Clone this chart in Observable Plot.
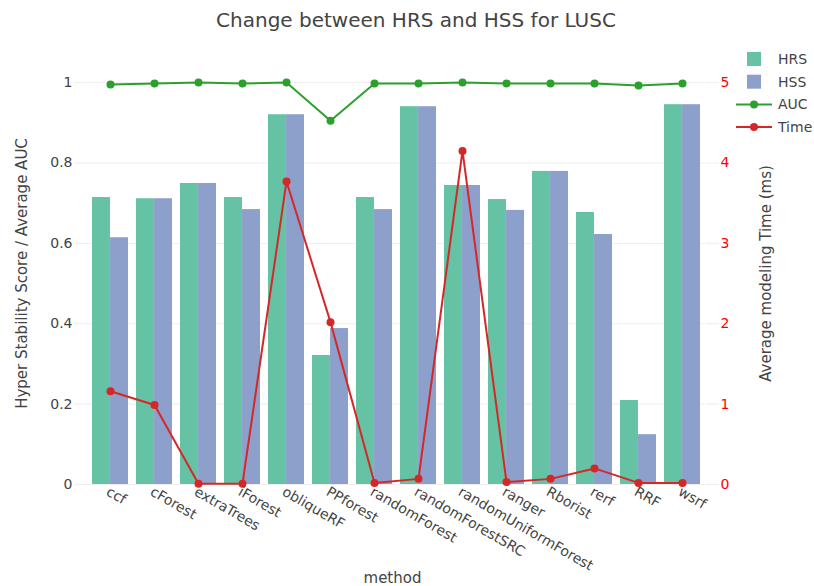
<!DOCTYPE html>
<html><head><meta charset="utf-8">
<script src="https://cdn.jsdelivr.net/npm/d3@7"></script>
<script src="https://cdn.jsdelivr.net/npm/@observablehq/plot@0.6"></script>
<style>
body{margin:0;background:#fff}
#wrap{position:relative;width:814px;height:586px}
#overlay{position:absolute;left:0;top:0;pointer-events:none}
</style>
</head><body><div id="wrap"></div>
<script>
const methods = ["ccf","cForest","extraTrees","iForest","obliqueRF","PPforest","randomForest","randomForestSRC","randomUniformForest","ranger","Rborist","rerf","RRF","wsrf"];
const hrs  = [0.714,0.711,0.749,0.714,0.920,0.321,0.714,0.940,0.744,0.709,0.779,0.677,0.209,0.945];
const hss  = [0.614,0.711,0.749,0.684,0.920,0.388,0.684,0.940,0.744,0.682,0.779,0.622,0.124,0.945];
const auc  = [0.995,0.998,1.000,0.998,1.000,0.905,0.998,0.998,1.000,0.998,0.998,0.998,0.993,0.998];
const time = [1.16,0.99,0.01,0.01,3.77,2.02,0.02,0.07,4.15,0.03,0.07,0.20,0.02,0.02];
const scoreTicks = [0,0.2,0.4,0.6,0.8,1];
const timeTicks = [0,1,2,3,4,5];
const seriesNames = ["HRS","HSS","AUC","Time"];
const seriesColors = ["#66c2a5","#8da0cb","#2ca02c","#d62728"];
const titleText = "Change between HRS and HSS for LUSC";
const yLeftTitle = "Hyper Stability Score / Average AUC";
const yRightTitle = "Average modeling Time (ms)";
const xTitle = "method";

const W = 814, H = 586;
const mL = 88, mR = 110, mT = 62, mB = 102;
const padIn = 0.18;
const band = (W - mL - mR) / methods.length * (1 - padIn);
const half = band / 2;
const ratio = timeTicks[timeTicks.length-1] / scoreTicks[scoreTicks.length-1];

const rows = methods.map((m,i) => ({method:m, HRS:hrs[i], HSS:hss[i], AUC:auc[i], Time:time[i]}));
const font = "DejaVu Sans, Verdana, sans-serif";

const chart = Plot.plot({
  width: W, height: H,
  marginLeft: mL, marginRight: mR, marginTop: mT, marginBottom: mB,
  style: {fontFamily: font, fontSize: "14px", color: "#444", background: "white"},
  x: {domain: methods, paddingInner: padIn, paddingOuter: padIn/2},
  y: {domain: [0, 1.05]},
  marks: [
    Plot.gridY(scoreTicks, {stroke: "#eee", strokeOpacity: 1}),
    Plot.axisY(scoreTicks, {anchor: "left", tickSize: 14, tickPadding: 2, stroke: "#eee", strokeOpacity: 1, fill: "#444", fontSize: 14, tickFormat: d => String(d), label: null}),
    Plot.axisY(timeTicks.map(t => t / ratio), {anchor: "right", tickSize: 14, tickPadding: 2, stroke: "#eee", strokeOpacity: 1, fill: "red", fontSize: 14, tickFormat: d => String(Math.round(d * ratio)), label: null}),
    Plot.barY(rows, {x: "method", y: "HRS", fill: seriesColors[0], insetRight: half}),
    Plot.barY(rows, {x: "method", y: "HSS", fill: seriesColors[1], insetLeft: half}),
    Plot.line(rows, {x: "method", y: "AUC", stroke: seriesColors[2], strokeWidth: 2}),
    Plot.dot(rows, {x: "method", y: "AUC", fill: seriesColors[2], r: 4}),
    Plot.line(rows, {x: "method", y: d => d.Time / ratio, stroke: seriesColors[3], strokeWidth: 2}),
    Plot.dot(rows, {x: "method", y: d => d.Time / ratio, fill: seriesColors[3], r: 4}),
    Plot.axisX({tickRotate: 30, tickSize: 0, tickPadding: 6, dx: -3, fill: "#444", fontSize: 14, label: null}),
    Plot.text([yLeftTitle], {frameAnchor: "left", textAnchor: "middle", dx: -66, rotate: -90, fontSize: 15, fill: "#444"}),
    Plot.text([yRightTitle], {frameAnchor: "right", textAnchor: "middle", dx: 62, rotate: -90, fontSize: 15, fill: "#444"}),
    Plot.text([xTitle], {frameAnchor: "bottom", dy: 98, dx: -4, fontSize: 15, fill: "#444"})
  ]
});
const wrap = document.getElementById("wrap");
wrap.appendChild(chart);

// title and legend overlay
const ov = d3.select(wrap).append("svg").attr("id","overlay").attr("width", W).attr("height", H)
  .style("font-family", font);
ov.append("text").attr("x", 416).attr("y", 27).attr("text-anchor","middle")
  .attr("font-size", 20).attr("fill", "#444").text(titleText);
const lg = ov.append("g");
seriesNames.forEach((name, i) => {
  const cy = 59 + i * 22.7;
  const g = lg.append("g");
  if (i < 2) {
    g.append("rect").attr("x", 747).attr("y", cy - 7).attr("width", 14).attr("height", 14).attr("fill", seriesColors[i]);
  } else {
    g.append("line").attr("x1", 736).attr("x2", 772).attr("y1", cy).attr("y2", cy).attr("stroke", seriesColors[i]).attr("stroke-width", 2);
    g.append("circle").attr("cx", 754).attr("cy", cy).attr("r", 4).attr("fill", seriesColors[i]);
  }
  g.append("text").attr("x", 778).attr("y", cy + 5).attr("font-size", 14).attr("fill", "#444").text(name);
});
</script>
</body></html>
